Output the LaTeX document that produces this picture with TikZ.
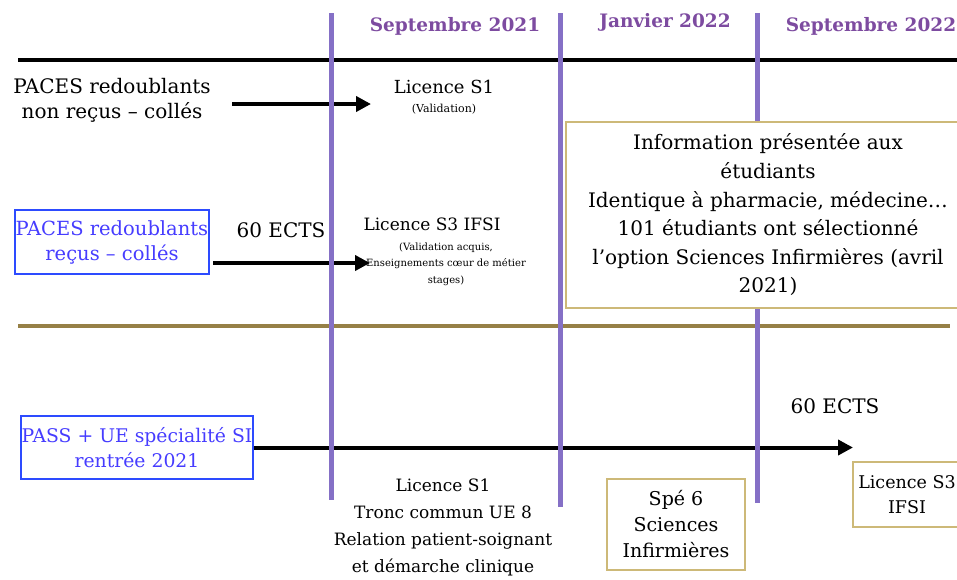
\documentclass[tikz,border=0pt]{standalone}
\usepackage{fontspec}
\setmainfont{DejaVu Serif}
\usepackage{tikz}
\usetikzlibrary{positioning,arrows.meta}

\begin{document}
\begin{tikzpicture}[x=1pt,y=1pt,yscale=-1,xscale=1,
  txt/.style={inner sep=0.75pt,align=center,font=\fontsize{20}{25}\selectfont},
  small/.style={inner sep=0.75pt,align=center,font=\fontsize{10}{16.5}\selectfont},
  heading/.style={inner sep=0.75pt,font=\fontsize{18.5}{20}\selectfont\bfseries,text={rgb, 255:red, 125; green, 75; blue, 160 }},
  bluebox/.style={txt,draw={rgb, 255:red, 45; green, 75; blue, 255 },line width=1.5,text={rgb, 255:red, 70; green, 60; blue, 255 }},
  tanbox/.style={txt,draw={rgb, 255:red, 205; green, 185; blue, 120 },line width=1.5,fill=white},
  month/.style={color={rgb, 255:red, 133; green, 112; blue, 198 },line width=5},
  flow/.style={line width=4,-{Triangle[length=15,width=15]}}]
\useasboundingbox (0,0) rectangle (957,579);

%Straight Lines top
\draw [line width=4]  (18,60) -- (957,60) ;
%Straight Lines middle
\draw [color={rgb, 255:red, 150; green, 128; blue, 70 },line width=4]  (18,326) -- (950,326) ;

% Text Node
\node (sepA) at (455,26) [heading] {Septembre 2021};
% Text Node
\node (janv) at (665,22) [heading] {Janvier 2022};
% Text Node
\node (sepB) at (871,26) [heading] {Septembre 2022};

% Text Node
\node (nonrecus) at (112,100) [txt] {PACES redoublants\\non reçus – collés};
% Text Node
\node (licA) at (444,87) [txt,font=\fontsize{18}{22}\selectfont] {Licence S1};
\node (valid) at (444,109) [small,font=\fontsize{11}{14}\selectfont] {(Validation)};
\coordinate (a1) at (232,104);
\coordinate (a2) at (371,104);
\draw [flow] (a1) -- (a2) ;

% Rect
\node (recus) at (112,242) [bluebox,minimum width=190,minimum height=64,font=\fontsize{19.5}{25}\selectfont] {PACES redoublants\\reçus – collés};
% Text Node
\node (ectsA) at (281,230) [txt] {60 ECTS};
% Text Node
\node (licB) at (432,224) [txt,font=\fontsize{17}{22}\selectfont] {Licence S3 IFSI};
\node (acquis) at (446,264) [small] {(Validation acquis,\\Enseignements cœur de métier\\stages)};
\coordinate (b1) at (213,263);
\coordinate (b2) at (370,263);
\draw [flow] (b1) -- (b2) ;

% Rect
\node (pass) at (137,447.5) [bluebox,minimum width=230,minimum height=63,font=\fontsize{18.8}{25}\selectfont] {PASS + UE spécialité SI\\rentrée 2021};
\coordinate (c2) at (853,447.5);
\draw [flow] (pass.east) -- (c2) ;
% Text Node
\node (ectsB) at (835,406) [txt] {60 ECTS};
% Text Node
\node (licC) at (443,527) [txt,font=\fontsize{17}{27}\selectfont] {Licence S1\\Tronc commun UE 8\\Relation patient-soignant\\et démarche clinique};

%Straight Lines months
\draw [month] (331,13) -- (331,500) ;
\draw [month] (560,13) -- (560,507) ;
\draw [month] (757,13) -- (757,503) ;

% Rect
\node (info) at (768,215) [tanbox,minimum width=404,minimum height=186,font=\fontsize{20}{28.6}\selectfont] {Information présentée aux\\étudiants\\Identique à pharmacie, médecine…\\101 étudiants ont sélectionné\\l’option Sciences Infirmières (avril\\2021)};
% Rect
\node (spe) at (676,524.5) [tanbox,minimum width=138,minimum height=91,font=\fontsize{19}{26}\selectfont] {Spé 6\\Sciences\\Infirmières};
% Rect
\draw [draw={rgb, 255:red, 205; green, 185; blue, 120 },line width=1.5] (853,462) rectangle (965,527) ;
\node (licD) at (907,494.5) [txt,font=\fontsize{17.5}{25}\selectfont] {Licence S3\\IFSI};
\end{tikzpicture}
\end{document}
